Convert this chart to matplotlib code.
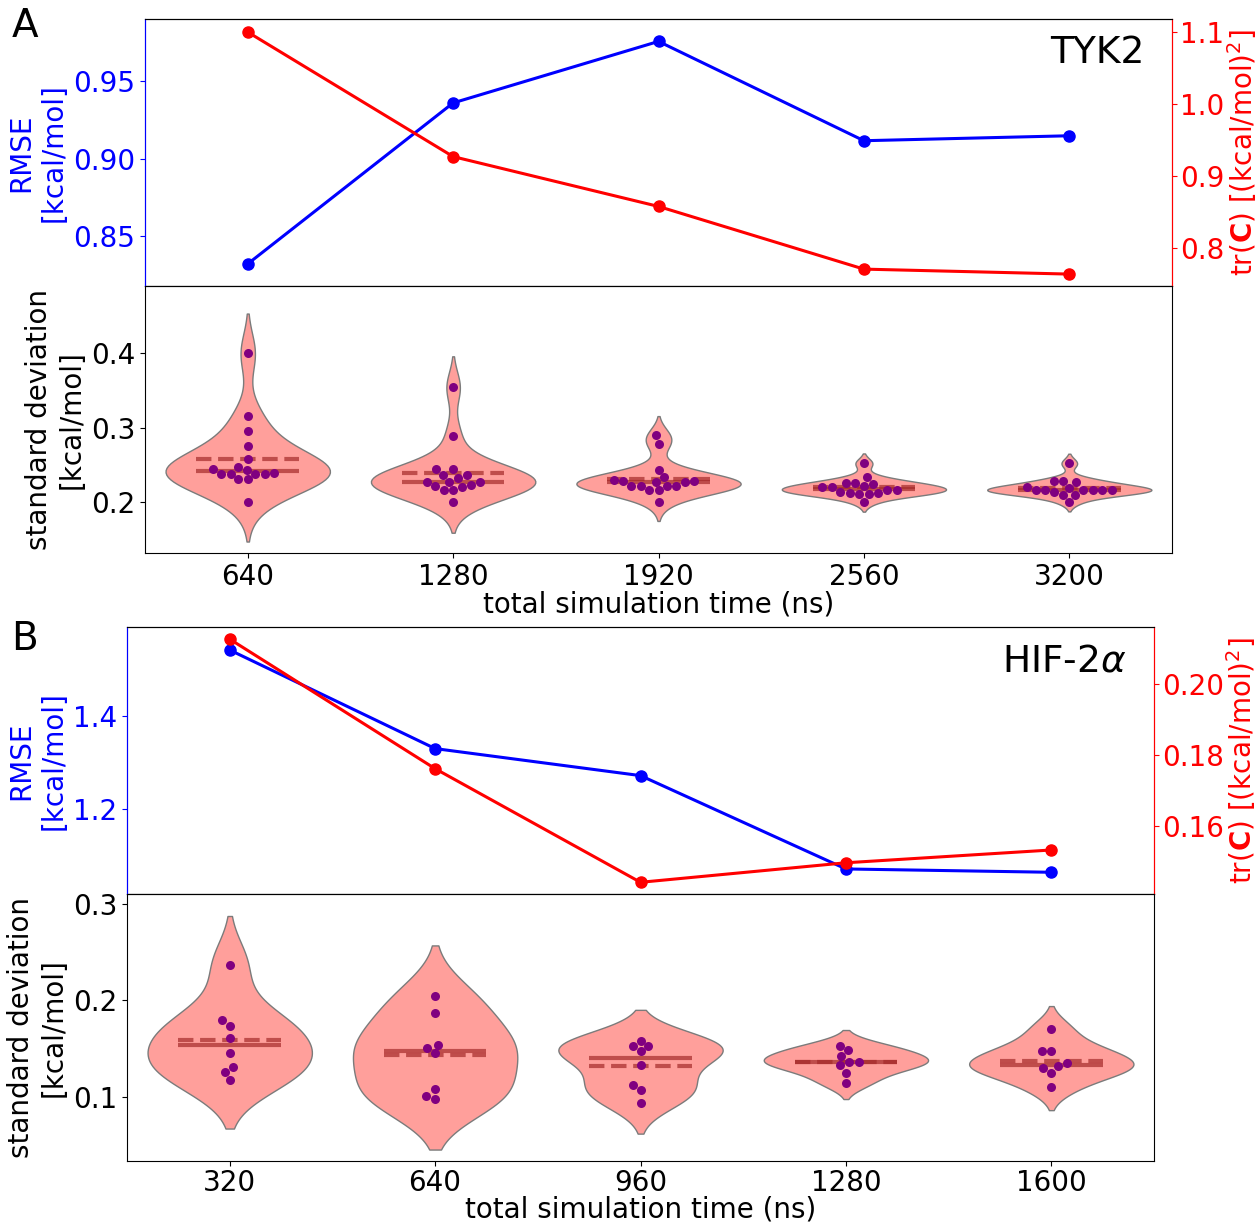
import numpy as np
import pandas as pd
import seaborn as sns
import matplotlib
matplotlib.use("Agg")
import matplotlib.pyplot as plt

# panel A (TYK2)
tyk2_times = [640, 1280, 1920, 2560, 3200]
tyk2_rmse = [0.832, 0.9359, 0.9756, 0.9115, 0.9147]
tyk2_trc = [1.0996, 0.9267, 0.8575, 0.7705, 0.7636]
tyk2_std = {
    640: [0.400, 0.3155, 0.2953, 0.2751, 0.2575, 0.2464, 0.2441, 0.2427,
          0.2373, 0.2373, 0.2373, 0.2373, 0.2391, 0.2302, 0.2302, 0.200],
    1280: [0.3542, 0.2889, 0.2445, 0.2445, 0.2356, 0.2356, 0.2319, 0.2270,
           0.2270, 0.2270, 0.2229, 0.2216, 0.2194, 0.2158, 0.2158, 0.200],
    1920: [0.2895, 0.2778, 0.2427, 0.2329, 0.2279, 0.2279, 0.2270, 0.2270,
           0.2290, 0.2212, 0.2212, 0.2212, 0.2212, 0.2154, 0.2154, 0.200],
    2560: [0.2517, 0.2329, 0.2256, 0.2256, 0.2234, 0.2212, 0.2194, 0.2194,
           0.2158, 0.2158, 0.2135, 0.2117, 0.2117, 0.2104, 0.2104, 0.200],
    3200: [0.2517, 0.2279, 0.2279, 0.2265, 0.2198, 0.2158, 0.2158, 0.2158,
           0.2158, 0.2158, 0.2158, 0.2185, 0.2126, 0.2094, 0.2094, 0.200],
}

# panel B (HIF-2a)
hif_times = [320, 640, 960, 1280, 1600]
hif_rmse = [1.540, 1.3295, 1.2718, 1.0725, 1.0654]
hif_trc = [0.2126, 0.1761, 0.1441, 0.1496, 0.1532]
hif_std = {
    320: [0.2365, 0.1791, 0.1736, 0.1611, 0.1459, 0.1308, 0.1262, 0.1180],
    640: [0.2047, 0.1867, 0.1542, 0.1504, 0.1453, 0.1086, 0.1010, 0.0976],
    960: [0.1580, 0.1525, 0.1525, 0.1470, 0.1335, 0.1128, 0.1076, 0.0941],
    1280: [0.1528, 0.1487, 0.1422, 0.1366, 0.1366, 0.1328, 0.1252, 0.1142],
    1600: [0.1702, 0.1480, 0.1480, 0.1349, 0.1321, 0.1304, 0.1252, 0.1101],
}

FS = 20
plt.rcParams["font.size"] = FS


def draw_panel(fig, left, bottom, times, rmse, trc, std, name,
               lims_rmse, lims_trc, lims_std, std_ticks, xpad=0, tpad=3.5):
    h = 0.2181
    w = 0.8157
    ax_top = fig.add_axes([left, bottom + h, w, h])
    ax_bot = fig.add_axes([left, bottom, w, h])
    pos = np.arange(len(times))

    ax_top.plot(pos, rmse, "-o", color="blue", lw=2.2, ms=8)
    ax_top.set_xlim(-0.5, len(times) - 0.5)
    ax_top.set_ylim(*lims_rmse)
    ax_top.set_xticks([])
    ax_top.set_ylabel("RMSE\n[kcal/mol]", color="blue", fontsize=FS)
    ax_top.tick_params(axis="y", colors="blue", labelsize=FS)
    ax_top.text(0.973, 0.94, name, transform=ax_top.transAxes,
                ha="right", va="top", fontsize=27)

    ax_tr = ax_top.twinx()
    ax_tr.plot(pos, trc, "-o", color="red", lw=2.2, ms=8)
    ax_tr.set_ylim(*lims_trc)
    ax_tr.set_ylabel(r"tr($\mathbf{C}$) [(kcal/mol)$^2$]", color="red",
                     fontsize=FS, labelpad=0)
    ax_tr.tick_params(axis="y", colors="red", labelsize=FS, pad=2.5)
    for a in (ax_top, ax_tr):
        a.spines["left"].set_color("blue")
        a.spines["right"].set_color("red")

    df = pd.DataFrame([(t, v) for t in times for v in std[t]], columns=["time", "std"])
    sns.violinplot(data=df, x="time", y="std", order=times, ax=ax_bot,
                   color="#ff9f9b", saturation=1, inner=None, density_norm="width",
                   linecolor="gray", linewidth=1)
    for i, t in enumerate(times):
        vals = np.array(std[t])
        ax_bot.hlines(np.median(vals), i - 0.25, i + 0.25, colors="brown",
                      alpha=0.7, lw=3, zorder=2)
        ax_bot.hlines(np.mean(vals), i - 0.25, i + 0.25, colors="brown",
                      alpha=0.7, lw=3, linestyles="dashed", zorder=2)
    sns.swarmplot(data=df, x="time", y="std", order=times, ax=ax_bot,
                  color="purple", size=6.5, zorder=3)
    ax_bot.set_xlim(-0.5, len(times) - 0.5)
    ax_bot.set_ylim(*lims_std)
    ax_bot.set_yticks(std_ticks)
    ax_bot.tick_params(labelsize=FS)
    ax_bot.tick_params(axis="x", pad=tpad)
    ax_bot.set_xlabel("total simulation time (ns)", fontsize=FS, labelpad=xpad)
    ax_bot.set_ylabel("standard deviation\n[kcal/mol]", fontsize=FS)


fig = plt.figure(figsize=(12.59, 12.24), dpi=100)
draw_panel(fig, 0.1152, 0.5482, tyk2_times, tyk2_rmse, tyk2_trc, tyk2_std, "TYK2",
           (0.8177, 0.990), (0.747, 1.1176), (0.1309, 0.4907), [0.2, 0.3, 0.4])
draw_panel(fig, 0.1009, 0.0515, hif_times, hif_rmse, hif_trc, hif_std, r"HIF-2$\alpha$",
           (1.019, 1.589), (0.1408, 0.216), (0.0337, 0.310), [0.1, 0.2, 0.3],
           xpad=-1, tpad=2.0)
fig.text(0.009, 0.994, "A", fontsize=28, va="top", ha="left")
fig.text(0.009, 0.4935, "B", fontsize=28, va="top", ha="left")
fig.savefig("out.png", dpi=100)
